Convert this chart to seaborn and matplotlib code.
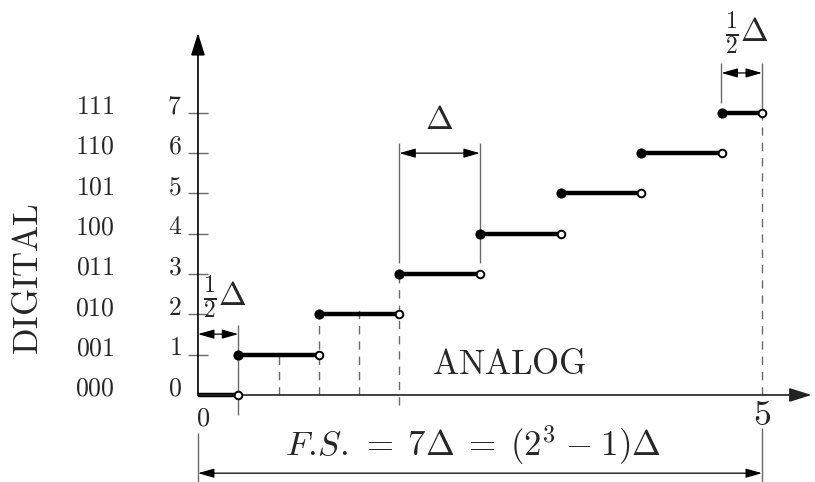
import pandas as pd
import matplotlib
matplotlib.use('Agg')
import matplotlib.pyplot as plt
import seaborn as sns

# quantizer staircase: output code vs analog input (full scale = 5)
levels = [0, 1, 2, 3, 4, 5, 6, 7]
codes = ['000', '001', '010', '011', '100', '101', '110', '111']
seg_start = [0.0, 0.357, 1.071, 1.786, 2.500, 3.214, 3.929, 4.643]
seg_end = [0.357, 1.071, 1.786, 2.500, 3.214, 3.929, 4.643, 5.0]
full_scale = 5.0
delta = 0.714

sns.set_style('white')
plt.rcParams['mathtext.fontset'] = 'cm'
plt.rcParams['font.family'] = ['DejaVu Serif']

fig = plt.figure(figsize=(8.15, 4.82), dpi=100)
ax = fig.add_axes([0, 0, 1, 1])
ax.set_xlim(-1.755, 5.47)
ax.set_ylim(-2.159, 9.80)
ax.axis('off')

gray = '#6a6a6a'
axc = '#222222'

# axes with arrows
ax.annotate('', xy=(0, 8.98), xytext=(0, 0),
            arrowprops=dict(arrowstyle='-|>,head_length=0.8,head_width=0.25',
                            mutation_scale=17, color='black', lw=1.2,
                            shrinkA=0, shrinkB=0))
ax.annotate('', xy=(5.44, 0), xytext=(0, 0),
            arrowprops=dict(arrowstyle='-|>,head_length=0.8,head_width=0.25',
                            mutation_scale=17, color=axc, lw=1.2,
                            shrinkA=0, shrinkB=0))

# y ticks and labels
ax.hlines(levels[1:], -0.089, 0.089, color=gray, lw=1)
for lv, cd in zip(levels, codes):
    ax.text(-0.142, lv + 0.17, r'$\mathrm{%d}$' % lv, ha='right', va='center', fontsize=18.5)
    ax.text(-0.913, lv + 0.17, r'$\mathrm{%s}$' % cd, ha='center', va='center', fontsize=18.5)

ax.text(-1.51, 2.88, r'$\mathrm{DIGITAL}$', rotation=90, ha='center', va='center', fontsize=25)
ax.text(2.76, 0.77, r'$\mathrm{ANALOG}$', ha='center', va='center', fontsize=25)

# guide lines
dash = dict(color=gray, lw=1, linestyles=(0, (6, 5)))
ax.vlines([delta, 1.5 * delta, 2 * delta], 0, [1, 2.25, 2.25], **dash)
ax.vlines(2.5 * delta, -0.25, 3, **dash)
ax.vlines(full_scale, 0, 7, **dash)
ax.vlines(0.5 * delta, -0.5, 1.74, color=gray, lw=1)
ax.vlines([2.5 * delta, 3.5 * delta], 3.28, 6.25, color=gray, lw=1)
ax.vlines(6.5 * delta, 7.25, 8.24, color=gray, lw=1)
ax.vlines(full_scale, 7.0, 8.24, color=gray, lw=1)
ax.vlines(0, -2.2, -0.94, color=gray, lw=1)
ax.vlines(full_scale, -2.2, -0.82, color=gray, lw=1)

# dimension arrows
dim = dict(arrowstyle='<|-|>,head_length=0.7,head_width=0.2', mutation_scale=14,
           color='black', lw=0.9, shrinkA=0, shrinkB=0)
ax.annotate('', xy=(0, 1.51), xytext=(0.5 * delta, 1.51), arrowprops=dim)
ax.annotate('', xy=(2.5 * delta, 6.0), xytext=(3.5 * delta, 6.0), arrowprops=dim)
ax.annotate('', xy=(6.5 * delta, 7.99), xytext=(full_scale, 7.99), arrowprops=dim)
ax.annotate('', xy=(0, -1.94), xytext=(full_scale, -1.94), arrowprops=dim)

ax.text(0.24, 2.43, r'$\frac{1}{2}\Delta$', ha='center', va='center', fontsize=24)
ax.text(3 * delta, 6.82, r'$\Delta$', ha='center', va='center', fontsize=24)
ax.text(4.87, 8.98, r'$\frac{1}{2}\Delta$', ha='center', va='center', fontsize=24)
ax.text(2.44, -1.24, r'$F.\!S.\,{=}\;7\Delta\;{=}\;(2^3\;{-}\;1)\Delta$', ha='center',
        va='center', fontsize=25)
ax.text(0.044, -0.57, r'$\mathrm{0}$', ha='center', va='center', fontsize=19)
ax.text(full_scale, -0.5, r'$\mathrm{5}$', ha='center', va='center', fontsize=26)

# staircase segments
rows = []
for i, lv in enumerate(levels):
    rows.append({'seg': i, 'x': seg_start[i], 'y': lv})
    rows.append({'seg': i, 'x': seg_end[i], 'y': lv})
steps = pd.DataFrame(rows)
sns.lineplot(data=steps, x='x', y='y', units='seg', estimator=None, color='black',
             lw=3.2, ax=ax, legend=False, solid_capstyle='butt')

closed = pd.DataFrame({'x': seg_start[1:], 'y': levels[1:]})
opened = pd.DataFrame({'x': seg_end, 'y': levels})
sns.scatterplot(data=closed, x='x', y='y', color='black', s=40, edgecolor='black',
                linewidth=1, ax=ax, zorder=5, legend=False)
sns.scatterplot(data=opened, x='x', y='y', color='white', s=30, edgecolor='black',
                linewidth=1.4, ax=ax, zorder=5, legend=False)

ax.set_xlim(-1.755, 5.47)
ax.set_ylim(-2.159, 9.80)
fig.savefig('out.png', dpi=100)
